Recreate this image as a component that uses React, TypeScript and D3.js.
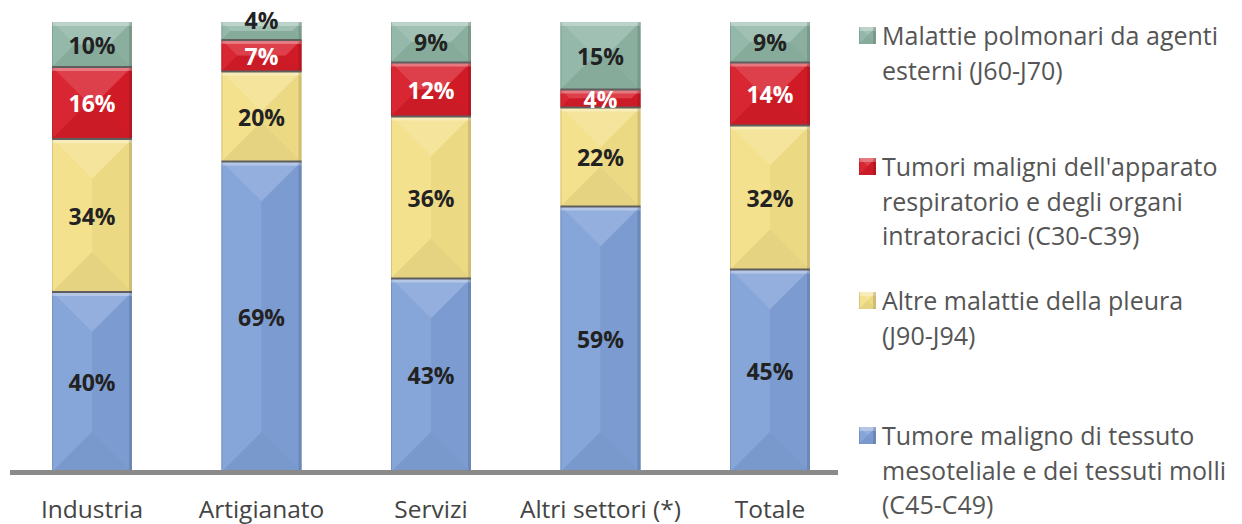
import * as d3 from "d3";

const WIDTH = 1242;
const HEIGHT = 524;
const MARGIN = { top: 22, right: 404, bottom: 52, left: 10 };

const categories = ["Industria", "Artigianato", "Servizi", "Altri settori (*)", "Totale"];
const seriesNames = [
  "Tumore maligno di tessuto mesoteliale e dei tessuti molli (C45-C49)",
  "Altre malattie della pleura (J90-J94)",
  "Tumori maligni dell'apparato respiratorio e degli organi intratoracici (C30-C39)",
  "Malattie polmonari da agenti esterni (J60-J70)",
];
// values per series, in category order (bottom to top stacking)
const tumoreMesoteliale = [40, 69, 43, 59, 45];
const altrePleura = [34, 20, 36, 22, 32];
const tumoriRespiratorio = [16, 7, 12, 4, 14];
const malattiePolmonari = [10, 4, 9, 15, 9];

// legend text wrapped like the original
const legendLines = [
  ["Malattie polmonari da agenti", "esterni (J60-J70)"],
  ["Tumori maligni dell'apparato", "respiratorio e degli organi", "intratoracici (C30-C39)"],
  ["Altre malattie della pleura", "(J90-J94)"],
  ["Tumore maligno di tessuto", "mesoteliale e dei tessuti molli", "(C45-C49)"],
];
const legendOrder = [3, 2, 1, 0];

const COLORS = ["#80a0d6", "#f3df88", "#d61c28", "#8eb4a4"];
const LABEL_COLORS = ["#222", "#222", "#fff", "#222"];
const FONT = "'Open Sans', 'Noto Sans', sans-serif";

function Bevel({ x, y, w, h, color }: { x: number; y: number; w: number; h: number; color: string }) {
  const d = Math.min(w, h) / 2;
  const c = d3.color(color)!;
  const light = d3.interpolateRgb(color, "#ffffff")(0.16);
  const lightSide = d3.interpolateRgb(color, "#ffffff")(0.05);
  const darkSide = c.darker(0.08).formatHex();
  const dark = c.darker(0.15).formatHex();
  const pts = (arr: number[][]) => arr.map((p) => p.join(",")).join(" ");
  const x2 = x + w;
  const y2 = y + h;
  return (
    <g>
      <rect x={x} y={y} width={w} height={h} fill={color} />
      <polygon points={pts([[x, y], [x2, y], [x2 - d, y + d], [x + d, y + d]])} fill={light} />
      <polygon points={pts([[x, y], [x + d, y + d], [x + d, y2 - d], [x, y2]])} fill={lightSide} />
      <polygon points={pts([[x2, y], [x2, y2], [x2 - d, y2 - d], [x2 - d, y + d]])} fill={darkSide} />
      <polygon points={pts([[x, y2], [x + d, y2 - d], [x2 - d, y2 - d], [x2, y2]])} fill={dark} />
      <rect x={x} y={y} width={w} height={Math.min(4, h)} fill="#ffffff" opacity={0.3} />
      <rect x={x} y={y} width={1} height={h} fill="#000" opacity={0.12} />
      <rect x={x2 - 3} y={y} width={3} height={h} fill="#000" opacity={0.12} />
    </g>
  );
}

export default function App() {
  const boundsW = WIDTH - MARGIN.left - MARGIN.right;
  const boundsH = HEIGHT - MARGIN.top - MARGIN.bottom;

  const table = categories.map((cat, i) => ({
    cat,
    s0: tumoreMesoteliale[i],
    s1: altrePleura[i],
    s2: tumoriRespiratorio[i],
    s3: malattiePolmonari[i],
  }));
  const stack = d3.stack<any>().keys(["s0", "s1", "s2", "s3"])(table);

  const xScale = d3.scaleBand().domain(categories).range([42, 800]).paddingInner(0.528).paddingOuter(0);
  const yScale = d3.scaleLinear().domain([0, 100]).range([boundsH, 0]);

  // small top segments get their label pushed up above the bar, like the original
  const labelY = (d: number[], si: number) => {
    const h = yScale(d[0]) - yScale(d[1]);
    if (si === 3 && h < 22) return yScale(d[0]) - 20;
    return (yScale(d[0]) + yScale(d[1])) / 2;
  };

  return (
    <svg width={WIDTH} height={HEIGHT} style={{ position: "absolute", left: 0, top: 0, fontFamily: FONT }}>
      <g transform={`translate(${MARGIN.left},${MARGIN.top})`}>
        {stack.map((layer, si) =>
          layer.map((d, ci) => {
            const x = xScale(categories[ci])!;
            const y = yScale(d[1]);
            const h = yScale(d[0]) - yScale(d[1]);
            return <Bevel key={`${si}-${ci}`} x={x} y={y} w={xScale.bandwidth()} h={h} color={COLORS[si]} />;
          })
        )}
        {/* separators between segments */}
        {stack.slice(0, 3).map((layer, si) =>
          layer.map((d, ci) => (
            <line
              key={`sep-${si}-${ci}`}
              x1={xScale(categories[ci])!}
              x2={xScale(categories[ci])! + xScale.bandwidth()}
              y1={yScale(d[1])}
              y2={yScale(d[1])}
              stroke="#5e5e5e"
              strokeWidth={2}
            />
          ))
        )}
        {stack.map((layer, si) =>
          layer.map((d, ci) => (
            <text
              key={`lab-${si}-${ci}`}
              x={xScale(categories[ci])! + xScale.bandwidth() / 2}
              y={labelY(d, si)}
              textAnchor="middle"
              dominantBaseline="central"
              fontSize={23}
              fontWeight={700}
              fill={LABEL_COLORS[si]}
            >
              {`${d[1] - d[0]}%`}
            </text>
          ))
        )}
        <rect x={0} y={boundsH - 2} width={828} height={5} fill="#8a8a8a" />
        {categories.map((cat) => (
          <text
            key={cat}
            x={xScale(cat)! + xScale.bandwidth() / 2}
            y={boundsH + 46}
            textAnchor="middle"
            fontSize={24.5}
            fill="#444"
          >
            {cat}
          </text>
        ))}
      </g>
      <g>
        {legendOrder.map((si, li) => {
          const y0 = [35, 166, 300, 435][li];
          return (
            <g key={si}>
              <Bevel x={859} y={y0 - 8} w={17} h={17} color={COLORS[si]} />
              {legendLines[li].map((t, k) => (
                <text key={k} x={882} y={y0 + k * 34.5} dominantBaseline="central" fontSize={25} fill="#555">
                  {t}
                </text>
              ))}
            </g>
          );
        })}
      </g>
    </svg>
  );
}
